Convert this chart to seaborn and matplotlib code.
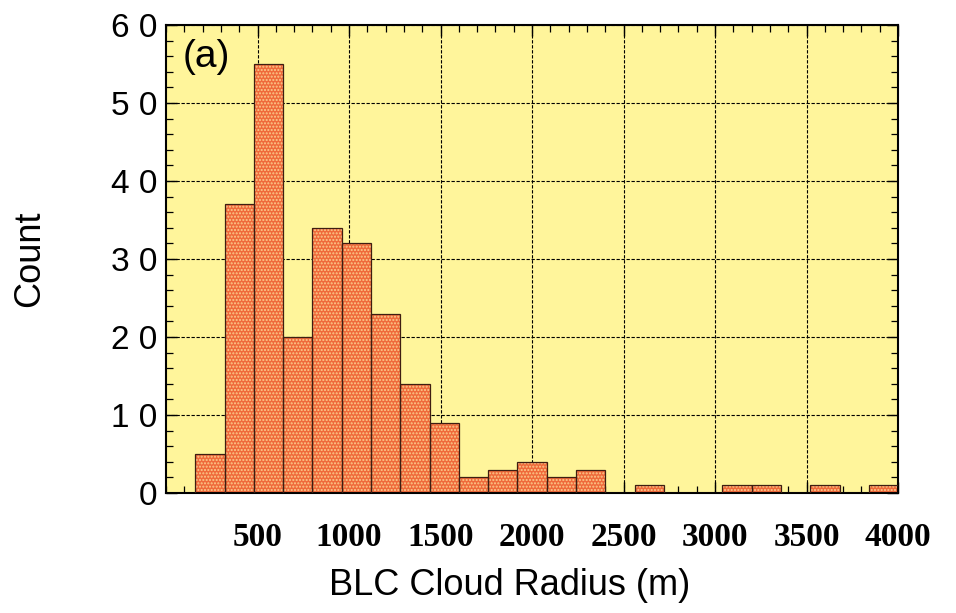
import matplotlib
matplotlib.use("Agg")
import matplotlib.pyplot as plt
from matplotlib.ticker import MultipleLocator, FixedLocator, FixedFormatter
import numpy as np
import pandas as pd
import seaborn as sns

# Histogram of boundary-layer cloud radii: bin edges (m) and counts per bin
bin_edges = [160, 320, 480, 640, 800, 960, 1120, 1280, 1440, 1600, 1760, 1920,
             2080, 2240, 2400, 2560, 2720, 2880, 3040, 3200, 3360, 3520, 3680,
             3840, 4000]
counts = [5, 37, 55, 20, 34, 32, 23, 14, 9, 2, 3, 4,
          2, 3, 0, 1, 0, 0, 1, 1, 0, 1, 0, 1]

x_ticks = [500, 1000, 1500, 2000, 2500, 3000, 3500, 4000]
x_tick_labels = ["500", "1000", "1500", "2000", "2500", "3000", "3500", "4000"]
y_ticks = [0, 10, 20, 30, 40, 50, 60]
y_tick_labels = ["0", "1 0", "2 0", "3 0", "4 0", "5 0", "6 0"]

panel_label = "(a)"
x_label = "BLC Cloud Radius (m)"
y_label = "Count"

edges = np.asarray(bin_edges, dtype=float)
df = pd.DataFrame({
    "radius": (edges[:-1] + edges[1:]) / 2,
    "count": counts,
})

sns.set_style("ticks")
plt.rcParams["font.family"] = ["Liberation Sans", "DejaVu Sans"]
plt.rcParams["text.color"] = "black"
plt.rcParams["axes.labelcolor"] = "black"
plt.rcParams["xtick.color"] = "black"
plt.rcParams["ytick.color"] = "black"

fig = plt.figure(figsize=(9.56, 6.13), dpi=100)
ax = fig.add_axes([0.1737, 0.1958, 0.7657, 0.7634])
ax.set_facecolor("#FFF59B")

# filled bars with a fine dotted texture
sns.histplot(data=df, x="radius", weights="count", bins=list(bin_edges), ax=ax,
             color="#EF6A3B", edgecolor="#FCCB8C", hatch=".....",
             linewidth=0, alpha=1, zorder=2)
# dark outlines on top
sns.histplot(data=df, x="radius", weights="count", bins=list(bin_edges), ax=ax,
             fill=False, color="#3E1E12", linewidth=0.9, zorder=3)

ax.set_xlim(0, 4000)
ax.set_ylim(0, 60)

ax.xaxis.set_major_locator(FixedLocator(x_ticks))
ax.xaxis.set_major_formatter(FixedFormatter(x_tick_labels))
ax.xaxis.set_minor_locator(MultipleLocator(100))
ax.yaxis.set_major_locator(FixedLocator(y_ticks))
ax.yaxis.set_major_formatter(FixedFormatter(y_tick_labels))
ax.yaxis.set_minor_locator(MultipleLocator(2))

ax.grid(True, which="major", color="black", linestyle=(0, (3, 1.5)),
        linewidth=0.8, zorder=1)
ax.set_axisbelow(True)

ax.tick_params(which="both", direction="in", top=True, right=True,
               color="black", labelcolor="black")
ax.tick_params(which="major", length=8, width=1.0)
ax.tick_params(which="minor", length=5, width=0.9)
ax.tick_params(axis="y", which="major", labelsize=24, pad=6)
ax.tick_params(axis="x", which="major", pad=21)
for lbl in ax.get_xticklabels():
    lbl.set_fontfamily(["Liberation Serif", "DejaVu Serif"])
    lbl.set_fontweight("bold")
    lbl.set_fontsize(24)

for sp in ax.spines.values():
    sp.set_color("black")
    sp.set_linewidth(1.5)
    sp.set_visible(True)

ax.set_xlabel(x_label, fontsize=26, color="black")
ax.set_ylabel(y_label, fontsize=26, color="black")
ax.xaxis.set_label_coords(0.469, -0.16)
ax.yaxis.set_label_coords(-0.163, 0.5)

ax.text(0.022, 0.97, panel_label, transform=ax.transAxes, fontsize=28,
        ha="left", va="top", color="black", zorder=5)

fig.savefig("out.png", dpi=100)
